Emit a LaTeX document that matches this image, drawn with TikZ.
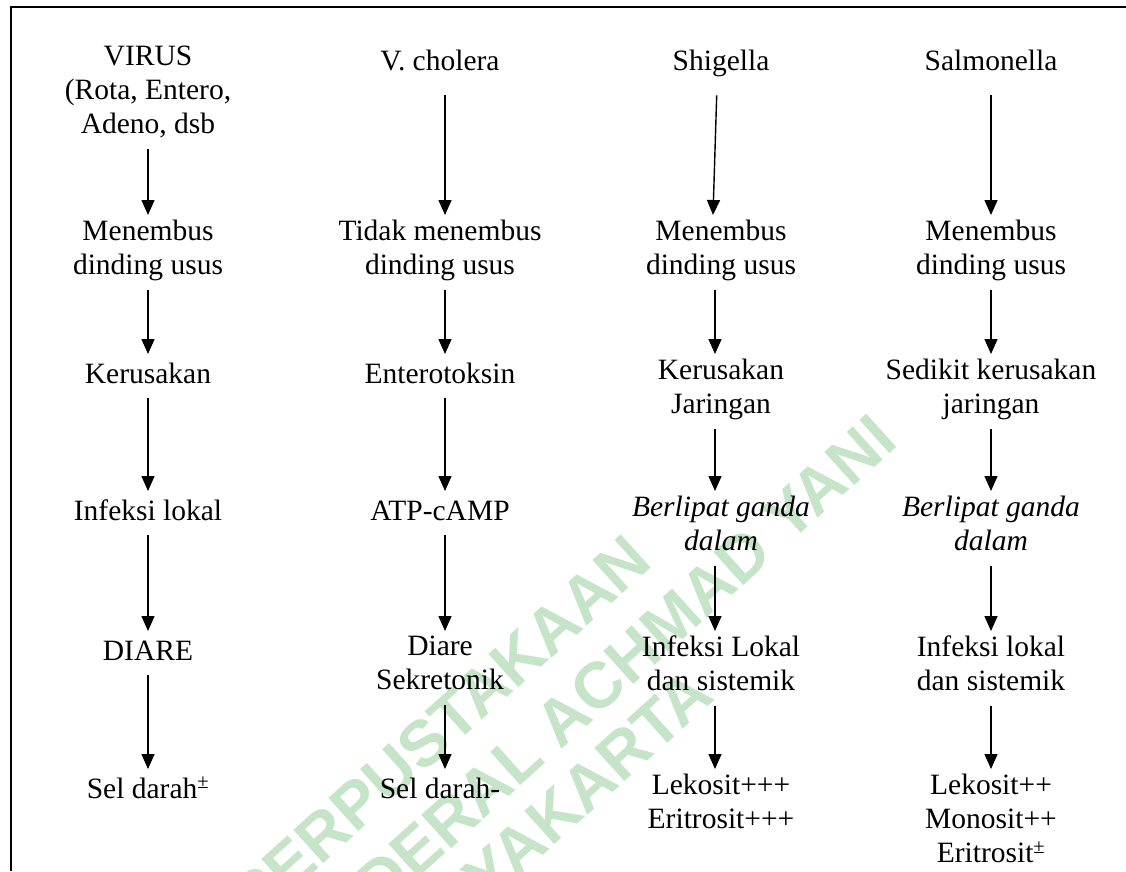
\documentclass[tikz,border=0pt]{standalone}
\usepackage{fontspec}
\setmainfont{Liberation Serif}
\newfontfamily\wmfont{Liberation Sans}
\usetikzlibrary{arrows.meta}
\definecolor{wmgreen}{RGB}{197,228,200}

\begin{document}
\begin{tikzpicture}[x=1pt, y=-1pt,
        lbl/.style={anchor=north, align=center, inner xsep=0pt, inner ysep=5pt,
            font=\fontsize{29.5}{34}\selectfont,
            execute at begin node=\strut, execute at end node=\strut},
        ital/.style={lbl, font=\fontsize{29.5}{34}\selectfont\itshape},
        arr/.style={line width=1.4pt, -{Triangle[length=15pt,width=13pt]}},
        wm/.style={anchor=east, inner sep=0pt, rotate=42, text=wmgreen,
            font=\wmfont\bfseries\fontsize{65}{68}\selectfont}]
        \useasboundingbox (0,0) rectangle (1126,871);

        % stamp behind the chart
        \begin{scope}
            \clip (0,0) rectangle (1126,871);
            \node[wm] (wmA) at (640,548) {PERPUSTAKAAN};
            \node[wm] (wmB) at (885,428) {JENDERAL ACHMAD YANI};
            \node[wm] (wmC) at (702,682) {YOGYAKARTA};
        \end{scope}

        \draw[line width=2pt] (11,871) -- (11,7) -- (1126,7);

        % virus
        \node[lbl] (vir) at (148,41) {VIRUS\\(Rota, Entero,\\Adeno, dsb};
        \node[lbl] (mn1) at (148,215) {Menembus\\dinding usus};
        \node[lbl] (kr1) at (148,354) {Kerusakan};
        \node[lbl] (inf1) at (148,491) {Infeksi lokal};
        \node[lbl] (dia1) at (148,631) {DIARE};
        \node[lbl] (sel1) at (148,769) {Sel darah\textsuperscript{±}};

        % cholera
        \node[lbl] (chol) at (440,41) {V. cholera};
        \node[lbl] (mn2) at (440,215) {Tidak menembus\\dinding usus};
        \node[lbl] (ent) at (440,354) {Enterotoksin};
        \node[lbl] (atp) at (440,491) {ATP-cAMP};
        \node[lbl] (dia2) at (440,631) {Diare\\Sekretonik};
        \node[lbl] (sel2) at (440,769) {Sel darah-};

        % shigella
        \node[lbl] (shig) at (721,41) {Shigella};
        \node[lbl] (mn3) at (721,215) {Menembus\\dinding usus};
        \node[lbl] (kr3) at (721,354) {Kerusakan\\Jaringan};
        \node[ital] (ber3) at (721,491) {Berlipat ganda\\dalam};
        \node[lbl] (inf3) at (721,631) {Infeksi Lokal\\dan sistemik};
        \node[lbl] (lek3) at (721,769) {Lekosit+++\\Eritrosit+++};

        % salmonella
        \node[lbl] (salm) at (991,41) {Salmonella};
        \node[lbl] (mn4) at (991,215) {Menembus\\dinding usus};
        \node[lbl] (kr4) at (991,354) {Sedikit kerusakan\\jaringan};
        \node[ital] (ber4) at (991,491) {Berlipat ganda\\dalam};
        \node[lbl] (inf4) at (991,631) {Infeksi lokal\\dan sistemik};
        \node[lbl] (lek4) at (991,769) {Lekosit++\\Monosit++\\Eritrosit\textsuperscript{±}};

        \draw[arr] (vir) -- (mn1);
        \draw[arr] (mn1) -- (kr1);
        \draw[arr] (kr1) -- (inf1);
        \draw[arr] (inf1) -- (dia1);
        \draw[arr] (dia1) -- (sel1);

        \draw[arr, shorten <=10pt] ([xshift=5pt]chol.south) -- ([xshift=5pt]mn2.north);
        \draw[arr] ([xshift=5pt]mn2.south) -- ([xshift=5pt]ent.north);
        \draw[arr] ([xshift=5pt]ent.south) -- ([xshift=5pt]atp.north);
        \draw[arr] ([xshift=5pt]atp.south) -- ([xshift=5pt]dia2.north);
        \draw[arr] ([xshift=5pt]dia2.south) -- ([xshift=5pt]sel2.north);

        \draw[arr, shorten <=10pt] ([xshift=-4pt]shig.south) -- ([xshift=-8pt]mn3.north);
        \draw[arr] ([xshift=-6pt]mn3.south) -- ([xshift=-6pt]kr3.north);
        \draw[arr] ([xshift=-6pt]kr3.south) -- ([xshift=-6pt]ber3.north);
        \draw[arr] ([xshift=-6pt]ber3.south) -- ([xshift=-6pt]inf3.north);
        \draw[arr] ([xshift=-6pt]inf3.south) -- ([xshift=-6pt]lek3.north);

        \draw[arr, shorten <=10pt] (salm) -- (mn4);
        \draw[arr] (mn4) -- (kr4);
        \draw[arr] (kr4) -- (ber4);
        \draw[arr] (ber4) -- (inf4);
        \draw[arr] (inf4) -- (lek4);
    \end{tikzpicture}
\end{document}
